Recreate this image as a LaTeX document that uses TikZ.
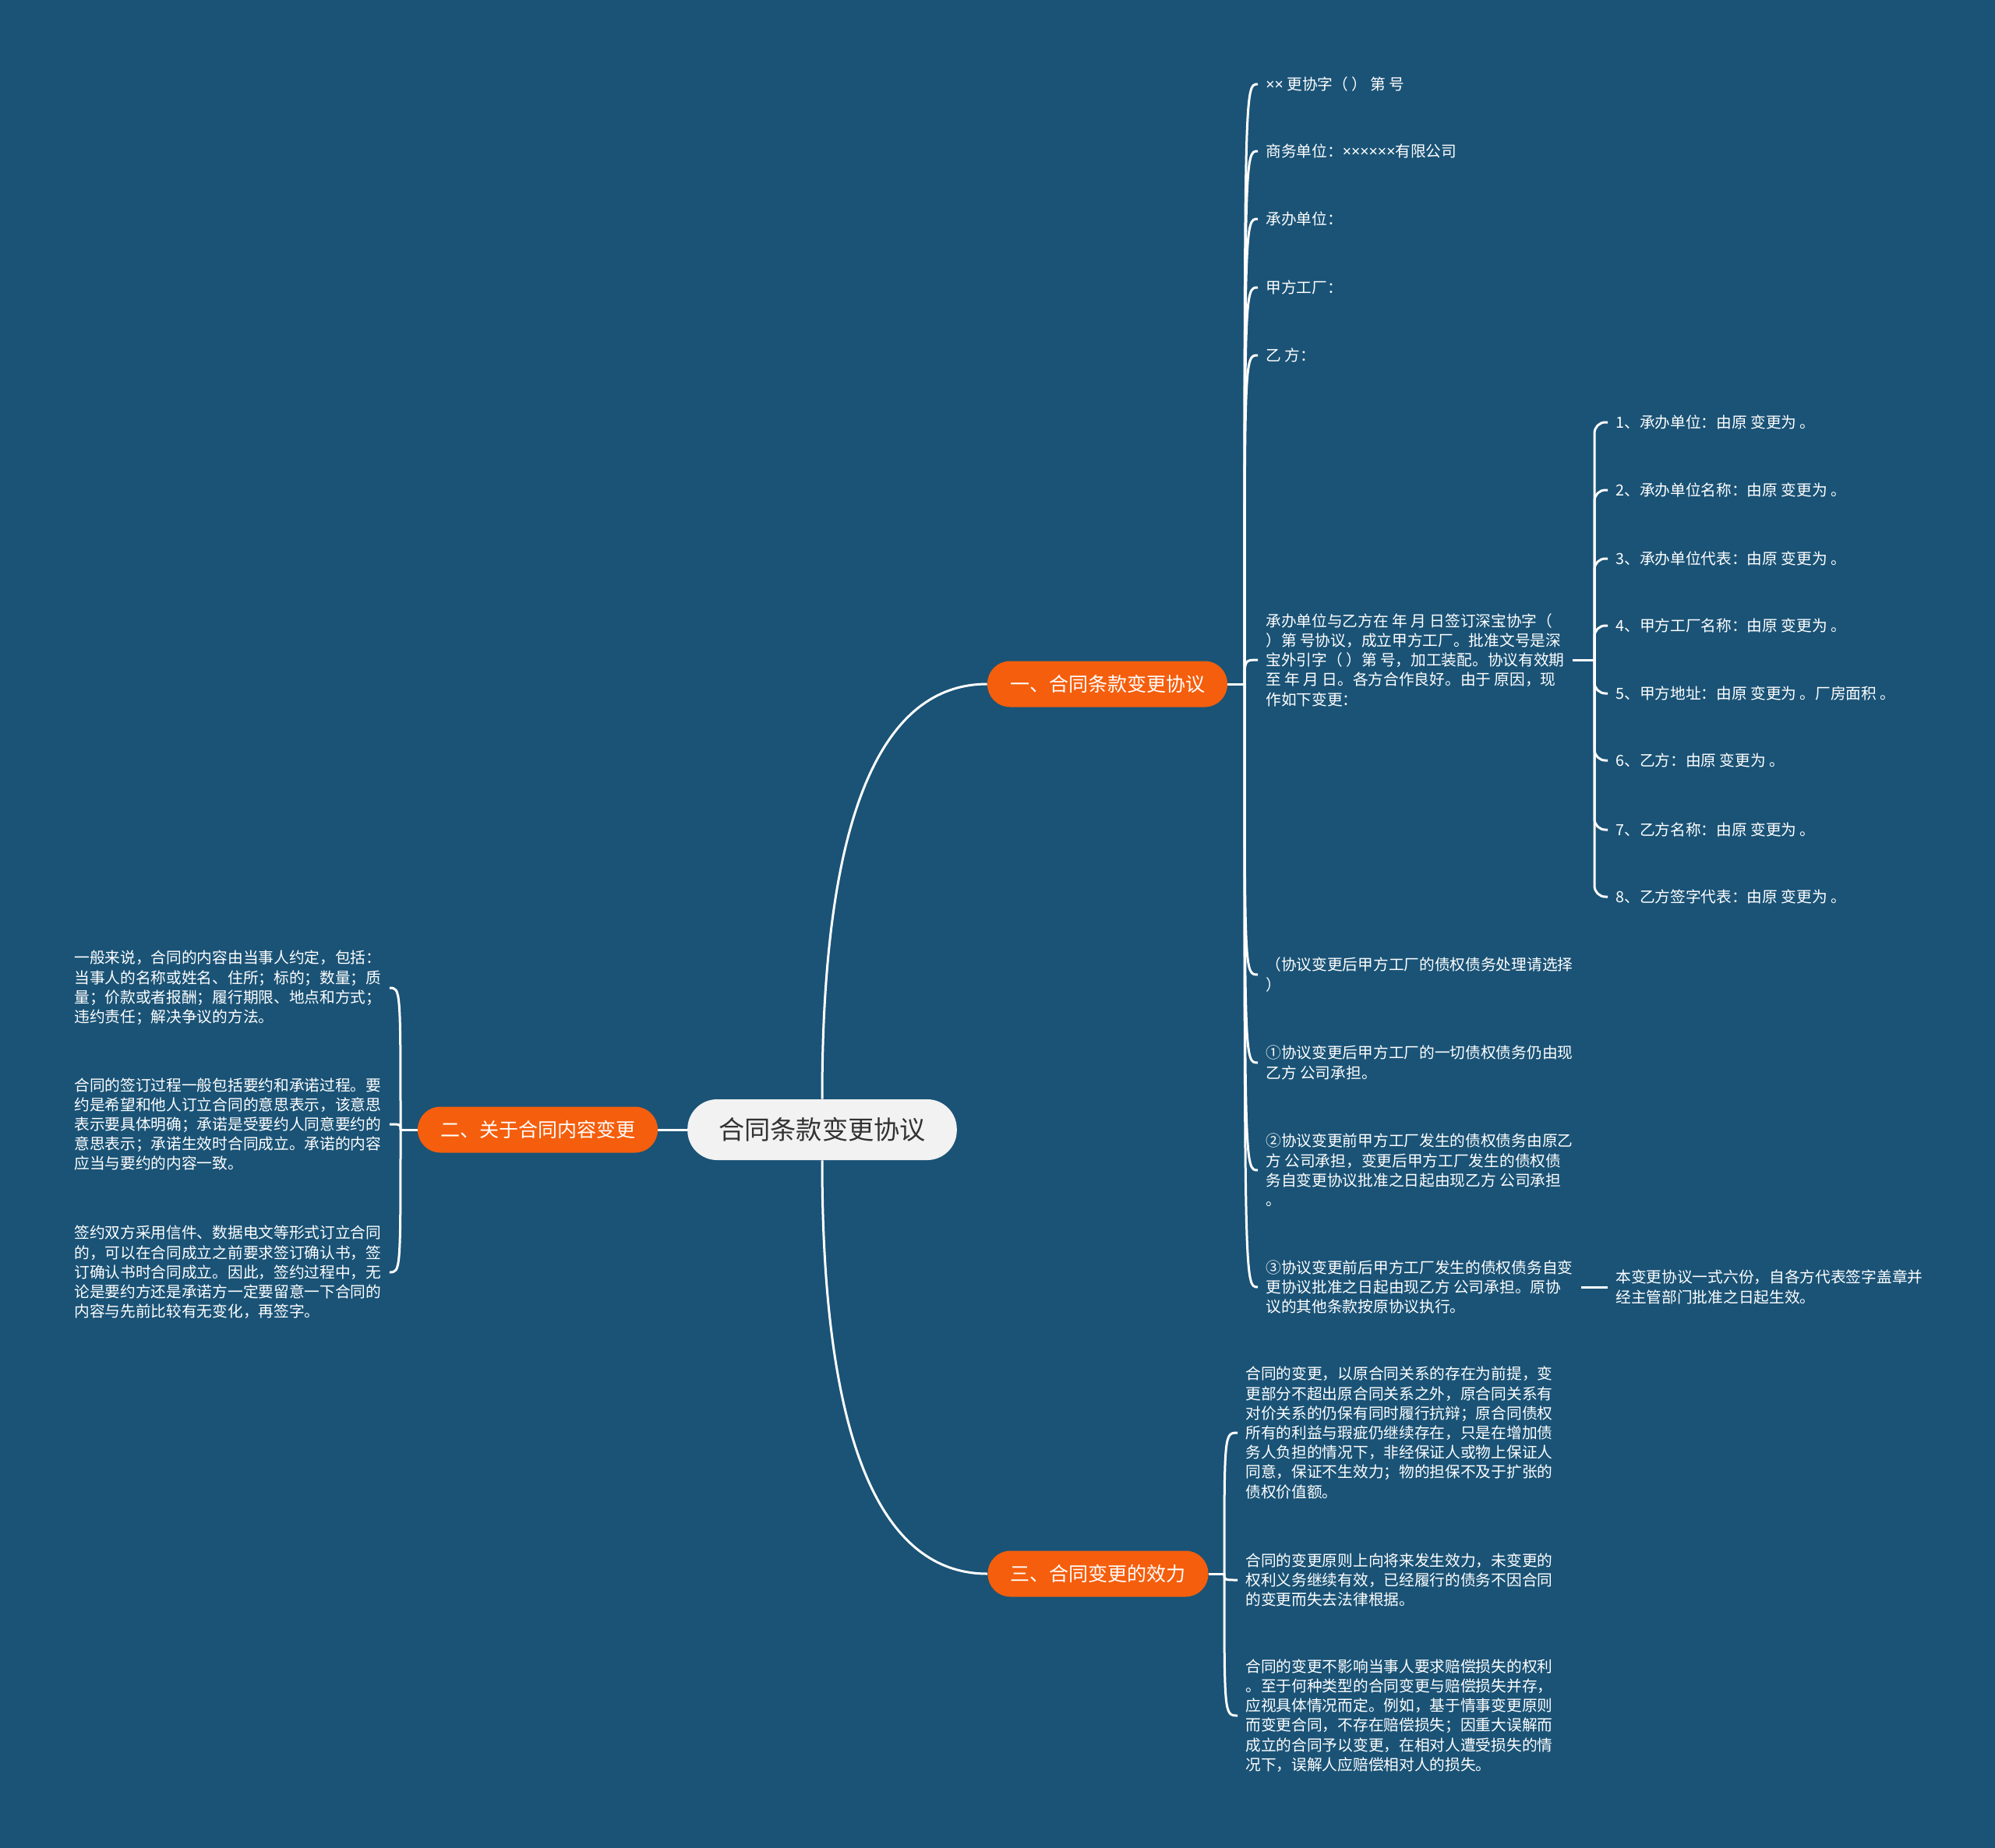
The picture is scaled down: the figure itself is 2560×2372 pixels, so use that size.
\documentclass[tikz,border=0pt]{standalone}
\usepackage{fontspec}
\setmainfont{Noto Sans CJK SC}
\newfontfamily\latinfont{Noto Sans}

\definecolor{bgblue}{RGB}{26,83,118}
\definecolor{topicorange}{RGB}{245,94,12}
\definecolor{rootgray}{RGB}{242,242,242}

\tikzset{
  rootbox/.style={fill=rootgray, text=black!80, rounded corners=19pt, minimum height=39pt,
    inner xsep=20pt, font=\fontsize{16.6pt}{20pt}\selectfont},
  topicbox/.style={fill=topicorange, text=white, rounded corners=14.5pt, minimum height=29.5pt,
    inner xsep=14.5pt, font=\fontsize{12.5pt}{15pt}\selectfont},
  leaftext/.style={text=white, align=left, inner xsep=5pt, inner ysep=2pt,
    font=\fontsize{9.85pt}{12.6pt}\selectfont},
  conn/.style={white, line width=1.5pt},
}

\begin{document}
\begin{tikzpicture}[x=0.5pt, y=-0.5pt]
        % Background
        \useasboundingbox (0,0) rectangle (2560,2372);
        \fill[bgblue] (0,0) rectangle (2560,2372);

        % Root and topics
        \node[rootbox] (c) at (1055,1450) {合同条款变更协议};
        \node[topicbox] (b1) at (1421,878) {一、合同条款变更协议};
        \node[topicbox] (b2) at (690,1450) {二、关于合同内容变更};
        \node[topicbox] (b3) at (1409,2020) {三、合同变更的效力};

        \draw[conn] (c.north) .. controls +(0,-400) and +(-120,0) .. (b1.west);
        \draw[conn] (c.south) .. controls +(0,400) and +(-120,0) .. (b3.west);
        \draw[conn] (c.west) -- (b2.east);

        % Topic 1: leaves
        \node[leaftext, anchor=west] (a1) at (1614,108) {{\latinfont ××} 更协字（ ） 第 号};
        \node[leaftext, anchor=west] (a2) at (1614,194) {商务单位：{\latinfont ××××××}有限公司};
        \node[leaftext, anchor=west] (a3) at (1614,281) {承办单位：};
        \node[leaftext, anchor=west] (a4) at (1614,369) {甲方工厂：};
        \node[leaftext, anchor=west] (a5) at (1614,456) {乙 方：};
        \node[leaftext, anchor=west] (a6) at (1614,847) {承办单位与乙方在 年 月 日签订深宝协字（\\
          ）第 号协议，成立甲方工厂。批准文号是深\\
          宝外引字（ ）第 号，加工装配。协议有效期\\
          至 年 月 日。各方合作良好。由于 原因，现\\
          作如下变更：};
        \node[leaftext, anchor=west] (a7) at (1614,1251) {（协议变更后甲方工厂的债权债务处理请选择\\ ）};
        \node[leaftext, anchor=west] (a8) at (1614,1364) {①协议变更后甲方工厂的一切债权债务仍由现\\
          乙方 公司承担。};
        \node[leaftext, anchor=west] (a9) at (1614,1502) {②协议变更前甲方工厂发生的债权债务由原乙\\
          方 公司承担，变更后甲方工厂发生的债权债\\
          务自变更协议批准之日起由现乙方 公司承担\\
          。};
        \node[leaftext, anchor=west] (a10) at (1614,1652) {③协议变更前后甲方工厂发生的债权债务自变\\
          更协议批准之日起由现乙方 公司承担。原协\\
          议的其他条款按原协议执行。};
        \node[leaftext, anchor=west] (far) at (2063,1652) {本变更协议一式六份，自各方代表签字盖章并\\
          经主管部门批准之日起生效。};

        \coordinate (b1r) at (1597,878);
        \draw[conn] (b1.east) -- (b1r);
        \draw[conn] (b1r) .. controls (b1r |- a1.west) .. (a1.west);
        \draw[conn] (b1r) .. controls (b1r |- a2.west) .. (a2.west);
        \draw[conn] (b1r) .. controls (b1r |- a3.west) .. (a3.west);
        \draw[conn] (b1r) .. controls (b1r |- a4.west) .. (a4.west);
        \draw[conn] (b1r) .. controls (b1r |- a5.west) .. (a5.west);
        \draw[conn] (b1r) .. controls (b1r |- a6.west) .. (a6.west);
        \draw[conn] (b1r) .. controls (b1r |- a7.west) .. (a7.west);
        \draw[conn] (b1r) .. controls (b1r |- a8.west) .. (a8.west);
        \draw[conn] (b1r) .. controls (b1r |- a9.west) .. (a9.west);
        \draw[conn] (b1r) .. controls (b1r |- a10.west) .. (a10.west);
        \draw[conn] (a10.east) -- (far.west);

        % Changes list
        \node[leaftext, anchor=west] (i1) at (2063,542) {1、承办单位：由原 变更为 。};
        \node[leaftext, anchor=west] (i2) at (2063,629) {2、承办单位名称：由原 变更为 。};
        \node[leaftext, anchor=west] (i3) at (2063,717) {3、承办单位代表：由原 变更为 。};
        \node[leaftext, anchor=west] (i4) at (2063,803) {4、甲方工厂名称：由原 变更为 。};
        \node[leaftext, anchor=west] (i5) at (2063,890) {5、甲方地址：由原 变更为 。厂房面积 。};
        \node[leaftext, anchor=west] (i6) at (2063,976) {6、乙方：由原 变更为 。};
        \node[leaftext, anchor=west] (i7) at (2063,1065) {7、乙方名称：由原 变更为 。};
        \node[leaftext, anchor=west] (i8) at (2063,1151) {8、乙方签字代表：由原 变更为 。};

        \coordinate (pr) at (2046,847);
        \draw[conn] (a6.east) -- (pr);
        \draw[conn, rounded corners=7pt] (pr) |- (i1.west);
        \draw[conn, rounded corners=7pt] (pr) |- (i2.west);
        \draw[conn, rounded corners=7pt] (pr) |- (i3.west);
        \draw[conn, rounded corners=7pt] (pr) |- (i4.west);
        \draw[conn, rounded corners=7pt] (pr) |- (i5.west);
        \draw[conn, rounded corners=7pt] (pr) |- (i6.west);
        \draw[conn, rounded corners=7pt] (pr) |- (i7.west);
        \draw[conn, rounded corners=7pt] (pr) |- (i8.west);

        % Topic 2: leaves on the left
        \node[leaftext, anchor=west] (d1) at (85,1268) {一般来说，合同的内容由当事人约定，包括：\\
          当事人的名称或姓名、住所；标的；数量；质\\
          量；价款或者报酬；履行期限、地点和方式；\\
          违约责任；解决争议的方法。};
        \node[leaftext, anchor=west] (d2) at (85,1443) {合同的签订过程一般包括要约和承诺过程。要\\
          约是希望和他人订立合同的意思表示，该意思\\
          表示要具体明确；承诺是受要约人同意要约的\\
          意思表示；承诺生效时合同成立。承诺的内容\\
          应当与要约的内容一致。};
        \node[leaftext, anchor=west] (d3) at (85,1633) {签约双方采用信件、数据电文等形式订立合同\\
          的，可以在合同成立之前要求签订确认书，签\\
          订确认书时合同成立。因此，签约过程中，无\\
          论是要约方还是承诺方一定要留意一下合同的\\
          内容与先前比较有无变化，再签字。};

        \coordinate (b2l) at (514,1450);
        \draw[conn] (b2.west) -- (b2l);
        \draw[conn] (b2l) .. controls (b2l |- d1.east) .. (d1.east);
        \draw[conn] (b2l) .. controls (b2l |- d2.east) .. (d2.east);
        \draw[conn] (b2l) .. controls (b2l |- d3.east) .. (d3.east);

        % Topic 3: leaves
        \node[leaftext, anchor=west] (e1) at (1588,1839) {合同的变更，以原合同关系的存在为前提，变\\
          更部分不超出原合同关系之外，原合同关系有\\
          对价关系的仍保有同时履行抗辩；原合同债权\\
          所有的利益与瑕疵仍继续存在，只是在增加债\\
          务人负担的情况下，非经保证人或物上保证人\\
          同意，保证不生效力；物的担保不及于扩张的\\
          债权价值额。};
        \node[leaftext, anchor=west] (e2) at (1588,2028) {合同的变更原则上向将来发生效力，未变更的\\
          权利义务继续有效，已经履行的债务不因合同\\
          的变更而失去法律根据。};
        \node[leaftext, anchor=west] (e3) at (1588,2202) {合同的变更不影响当事人要求赔偿损失的权利\\
          。至于何种类型的合同变更与赔偿损失并存，\\
          应视具体情况而定。例如，基于情事变更原则\\
          而变更合同，不存在赔偿损失；因重大误解而\\
          成立的合同予以变更，在相对人遭受损失的情\\
          况下，误解人应赔偿相对人的损失。};

        \coordinate (b3r) at (1571,2020);
        \draw[conn] (b3.east) -- (b3r);
        \draw[conn] (b3r) .. controls (b3r |- e1.west) .. (e1.west);
        \draw[conn] (b3r) .. controls (b3r |- e2.west) .. (e2.west);
        \draw[conn] (b3r) .. controls (b3r |- e3.west) .. (e3.west);
    \end{tikzpicture}
\end{document}
